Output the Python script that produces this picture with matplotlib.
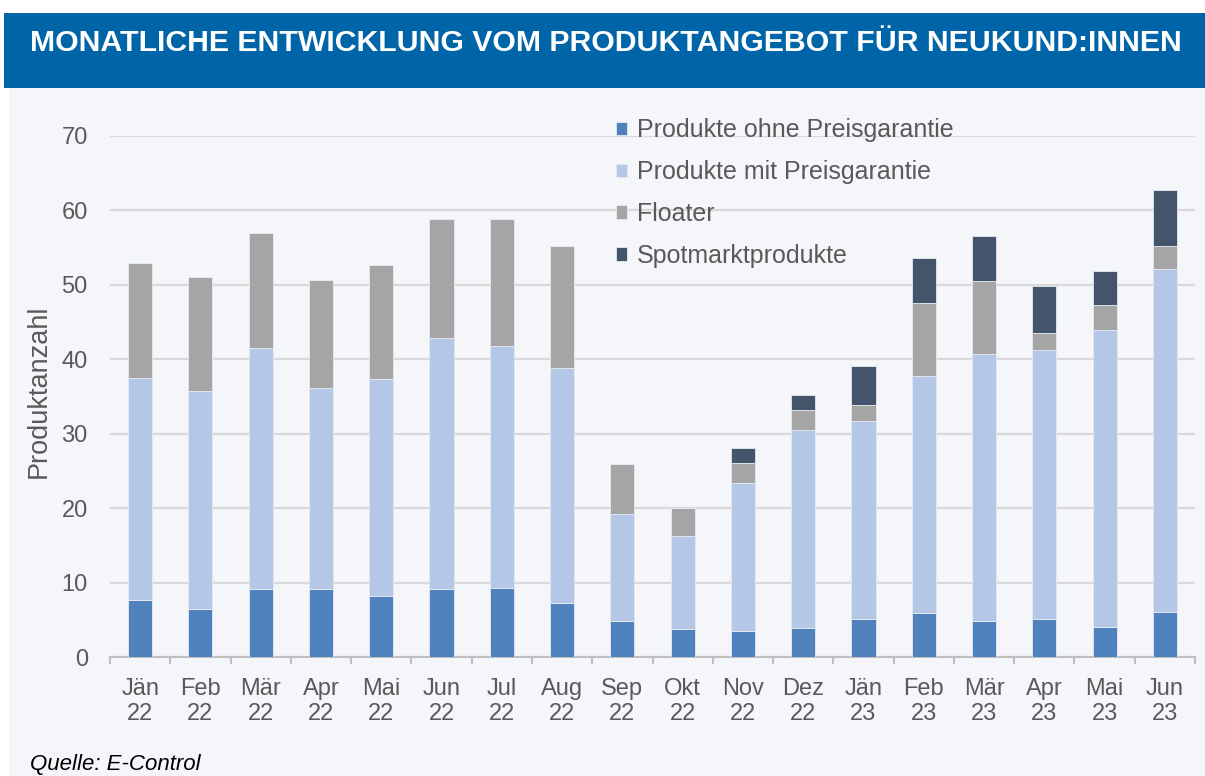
import numpy as np
import matplotlib
matplotlib.use("Agg")
import matplotlib.pyplot as plt
from matplotlib.patches import Rectangle

plt.rcParams['font.family'] = ['Liberation Sans', 'DejaVu Sans']

# --- data ---
months = ['Jän\n22', 'Feb\n22', 'Mär\n22', 'Apr\n22', 'Mai\n22', 'Jun\n22', 'Jul\n22', 'Aug\n22',
          'Sep\n22', 'Okt\n22', 'Nov\n22', 'Dez\n22', 'Jän\n23', 'Feb\n23', 'Mär\n23', 'Apr\n23',
          'Mai\n23', 'Jun\n23']
ohne_preisgarantie = [7.7, 6.4, 9.1, 9.1, 8.2, 9.1, 9.3, 7.3, 4.8, 3.7, 3.5, 3.9, 5.1, 5.9, 4.8, 5.1, 4.0, 6.0]
mit_preisgarantie = [29.8, 29.3, 32.4, 27.1, 29.1, 33.8, 32.5, 31.5, 14.4, 12.6, 19.9, 26.6, 26.6, 31.8, 35.9, 36.2, 40.0, 46.1]
floater = [15.5, 15.4, 15.5, 14.5, 15.4, 16.0, 17.1, 16.4, 6.7, 3.7, 2.7, 2.7, 2.2, 9.9, 9.8, 2.2, 3.3, 3.1]
spotmarkt = [0, 0, 0, 0, 0, 0, 0, 0, 0, 0, 2.0, 2.0, 5.2, 6.0, 6.0, 6.3, 4.5, 7.6]

series = [
    ('Produkte ohne Preisgarantie', ohne_preisgarantie, '#4F81BD'),
    ('Produkte mit Preisgarantie', mit_preisgarantie, '#B4C7E7'),
    ('Floater', floater, '#A5A5A5'),
    ('Spotmarktprodukte', spotmarkt, '#44546A'),
]

W, H = 1205, 776
fig = plt.figure(figsize=(W / 100, H / 100), dpi=100)
fig.patch.set_facecolor('white')

# light page background + blue banner
fig.patches.append(Rectangle((9 / W, 0), 1, 1 - 88 / H, transform=fig.transFigure,
                             facecolor='#F4F6FA', edgecolor='none', zorder=-2))
fig.patches.append(Rectangle((4 / W, 1 - 88 / H), 1, 75 / H, transform=fig.transFigure,
                             facecolor='#0064A8', edgecolor='none', zorder=-1))
fig.text(30 / W, 1 - 43 / H, 'MONATLICHE ENTWICKLUNG VOM PRODUKTANGEBOT FÜR NEUKUND:INNEN',
         color='white', fontsize=21.8, fontweight='bold', va='center', ha='left', zorder=2)

ax = fig.add_axes([110 / W, 1 - 657 / H, 1085 / W, 521 / H])
ax.set_facecolor('none')
ax.set_zorder(5)

x = np.arange(len(months))
bottom = np.zeros(len(months))
for name, vals, col in series:
    vals = np.array(vals)
    ax.bar(x, vals, width=0.4, bottom=bottom, color=col, edgecolor='#E6EBF3',
           linewidth=0.6, label=name, zorder=3)
    bottom += vals

ax.set_xlim(-0.5, len(months) - 0.5)
ax.set_ylim(0, 70)
ax.set_yticks(np.arange(0, 71, 10))
ax.grid(axis='y', color='#D9D9D9', linewidth=1.6, zorder=0)
ax.set_axisbelow(True)

for s in ['top', 'right', 'left']:
    ax.spines[s].set_visible(False)
ax.spines['bottom'].set_color('#BFBFBF')
ax.spines['bottom'].set_linewidth(1.5)

ax.set_xticks(x)
ax.set_xticklabels(months)
ax.set_xticks(np.arange(-0.5, len(months), 1), minor=True)
ax.tick_params(axis='x', which='major', length=0, pad=15, labelsize=17, labelcolor='#595959')
ax.tick_params(axis='x', which='minor', length=5, width=1.5, color='#BFBFBF')
ax.tick_params(axis='y', length=0, pad=16, labelsize=17, labelcolor='#595959')

ax.set_ylabel('Produktanzahl', fontsize=19.5, color='#595959')
ax.yaxis.set_label_coords(-0.054, 0.51)

handles, labels = ax.get_legend_handles_labels()
fig.legend(handles, labels, loc='upper left', bbox_to_anchor=(593 / W, 1 - 96 / H),
           frameon=False, fontsize=18, labelcolor='#595959', handlelength=0.45,
           handleheight=0.45, handletextpad=0.4, labelspacing=0.71)

fig.text(30 / W, 1 - 770 / H, 'Quelle: E-Control', fontsize=16, style='italic',
         color='black', va='baseline', ha='left')

fig.savefig('out.png', dpi=100)
